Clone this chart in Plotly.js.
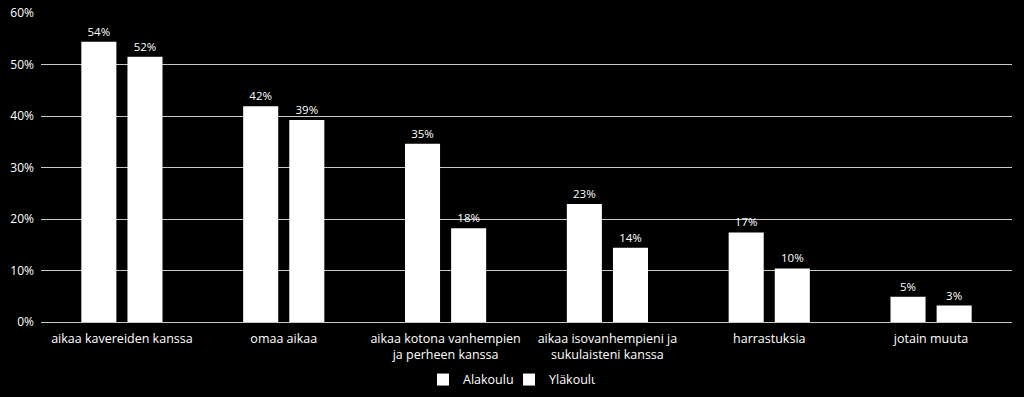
<!DOCTYPE html>
<html><head><meta charset="utf-8">
<script src="https://cdn.plot.ly/plotly-3.0.1.min.js"></script>
<style>html,body{margin:0;padding:0;background:#000;}#chart{width:1024px;height:397px;}</style>
</head><body><div id="chart"></div>
<script>
const categories = ["aikaa kavereiden kanssa", "omaa aikaa", "aikaa kotona vanhempien<br>ja perheen kanssa", "aikaa isovanhempieni ja<br>sukulaisteni kanssa", "harrastuksia", "jotain muuta"];
const alakoulu = [54.4, 41.9, 34.6, 22.9, 17.4, 4.9];
const ylakoulu = [51.5, 39.2, 18.2, 14.4, 10.4, 3.2];
const alakouluLabels = ["54%", "42%", "35%", "23%", "17%", "5%"];
const ylakouluLabels = ["52%", "39%", "18%", "14%", "10%", "3%"];
const yTicks = [0, 10, 20, 30, 40, 50, 60];
const yTickLabels = ["0%", "10%", "20%", "30%", "40%", "50%", "60%"];

const fam = "Open Sans, DejaVu Sans, sans-serif";
const font = {family: fam, size: 12.5, color: "#fff"};
const traces = [
  {type: "bar", name: "Alakoulu", x: categories, y: alakoulu, text: alakouluLabels,
   textposition: "outside", cliponaxis: false, textfont: {family: fam, size: 11.5, color: "#fff"},
   marker: {color: "#fff"}, hoverinfo: "none"},
  {type: "bar", name: "Yläkoulu", x: categories, y: ylakoulu, text: ylakouluLabels,
   textposition: "outside", cliponaxis: false, textfont: {family: fam, size: 11.5, color: "#fff"},
   marker: {color: "#fff"}, hoverinfo: "none"}
];
const layout = {
  width: 1024, height: 397,
  paper_bgcolor: "#000", plot_bgcolor: "#000",
  font: font,
  margin: {l: 41, r: 12, t: 13, b: 75, autoexpand: false},
  barmode: "group", bargap: 0.43, bargroupgap: 0.24,
  showlegend: true,
  legend: {orientation: "h", x: 0.482, xanchor: "center", yref: "container", y: 0.043, yanchor: "middle",
           font: {family: fam, size: 12.5, color: "#fff"}, bgcolor: "rgba(0,0,0,0)", itemwidth: 30,
           entrywidth: 41},
  xaxis: {showgrid: false, showline: false, zeroline: false, ticks: "", tickfont: font, tickangle: 0,
          ticklabelstandoff: 7},
  yaxis: {range: [0, 60], tickvals: yTicks, ticktext: yTickLabels, showgrid: true, gridcolor: "#c8c8c8",
          gridwidth: 1, zeroline: true, zerolinecolor: "#c8c8c8", zerolinewidth: 1, showline: false,
          ticks: "", tickfont: {family: fam, size: 12, color: "#fff"}, ticklabelstandoff: 6}
};
Plotly.newPlot("chart", traces, layout, {staticPlot: true, displayModeBar: false});
</script></body></html>
